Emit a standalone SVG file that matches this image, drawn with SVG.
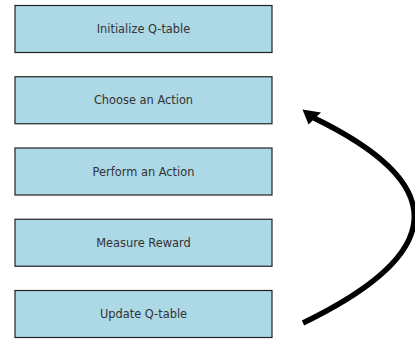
<svg xmlns="http://www.w3.org/2000/svg" width="415" height="339" viewBox="0 0 415 339">
<defs>
<style>
.box{fill:#add8e6;stroke:#222;stroke-width:1.2}
.lbl{font-family:"DejaVu Sans",sans-serif;font-size:11.4px;fill:#333;text-anchor:middle;dominant-baseline:central}
.conn{fill:none;stroke:#000;stroke-width:5.5}
</style>
</defs>
<rect width="415" height="339" fill="#fff"/>
<g id="n1"><rect class="box" x="15" y="5.5" width="257" height="47"/><text class="lbl" x="143.5" y="29">Initialize Q-table</text></g>
<g id="n2"><rect class="box" x="15" y="76.75" width="257" height="47"/><text class="lbl" x="143.5" y="100.25">Choose an Action</text></g>
<g id="n3"><rect class="box" x="15" y="148" width="257" height="47"/><text class="lbl" x="143.5" y="171.5">Perform an Action</text></g>
<g id="n4"><rect class="box" x="15" y="219.25" width="257" height="47"/><text class="lbl" x="143.5" y="242.75">Measure Reward</text></g>
<g id="n5"><rect class="box" x="15" y="290.5" width="257" height="47"/><text class="lbl" x="143.5" y="314">Update Q-table</text></g>
<g id="connectors">
<path class="conn" d="M303,323 Q520,218 314,118"/>
<polygon points="302.5,109.5 321,112.5 308.5,124.5" fill="#000"/>
</g>
</svg>
